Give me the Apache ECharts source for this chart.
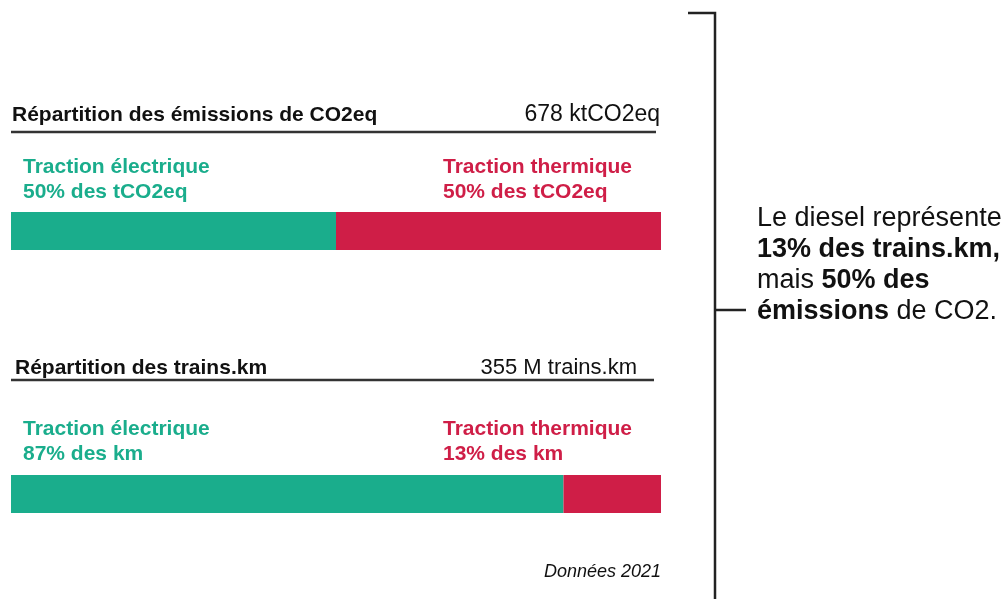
<!DOCTYPE html>
<html>
<head>
<meta charset="utf-8">
<script src="https://cdn.jsdelivr.net/npm/echarts@6/dist/echarts.min.js"></script>
<style>
  html, body { margin: 0; padding: 0; background: #fff; }
  #chart { width: 1002px; height: 599px; }
</style>
</head>
<body>
<div id="chart"></div>
<script>
// données
const sectionTitles = ['Répartition des émissions de CO2eq', 'Répartition des trains.km']
const sectionTotals = ['678 ktCO2eq', '355 M trains.km']
const electricShare = [50, 85] // longueur des barres telle que dessinée
const thermalShare = [50, 15]
const electricLabels = ['50% des tCO2eq', '87% des km']
const thermalLabels = ['50% des tCO2eq', '13% des km']
const sourceNote = 'Données 2021'

const GREEN = '#1aad8c'
const RED = '#cf1e47'
const FONT = '"Liberation Sans", Arial, sans-serif'

// positions de chaque bloc
const blocks = [
  { titleY: 115, titleX: 12, totalX: 660, totalSize: 23, lineY: 132, lineX2: 656, labelY: 167, barTop: 212 },
  { titleY: 368, titleX: 15, totalX: 637, totalSize: 22, lineY: 380, lineX2: 654, labelY: 429, barTop: 475 },
]

const chart = echarts.init(document.getElementById('chart'))

const grids = blocks.map((b) => ({ left: 11, width: 650, top: b.barTop, height: 38 }))
const xAxes = blocks.map((b, i) => ({ type: 'value', gridIndex: i, min: 0, max: 100, show: false }))
const yAxes = blocks.map((b, i) => ({ type: 'category', gridIndex: i, data: [sectionTitles[i]], show: false }))

const series = []
blocks.forEach((b, i) => {
  series.push({
    type: 'bar', stack: 's' + i, xAxisIndex: i, yAxisIndex: i,
    barWidth: '100%', data: [electricShare[i]], itemStyle: { color: GREEN }, silent: true,
  })
  series.push({
    type: 'bar', stack: 's' + i, xAxisIndex: i, yAxisIndex: i,
    barWidth: '100%', data: [thermalShare[i]], itemStyle: { color: RED }, silent: true,
  })
})

const graphic = []
blocks.forEach((b, i) => {
  graphic.push({
    type: 'text', position: [b.titleX, b.titleY],
    style: { text: sectionTitles[i], font: 'bold 21px ' + FONT, fill: '#111', verticalAlign: 'middle' },
  })
  graphic.push({
    type: 'text', position: [b.totalX, b.titleY],
    style: {
      text: sectionTotals[i], font: b.totalSize + 'px ' + FONT, fill: '#111',
      align: 'right', verticalAlign: 'middle',
    },
  })
  graphic.push({
    type: 'line', shape: { x1: 11, y1: b.lineY, x2: b.lineX2, y2: b.lineY },
    style: { stroke: '#333', lineWidth: 2.5 },
  })
  graphic.push({
    type: 'text', position: [23, b.labelY - 12],
    style: {
      text: 'Traction électrique\n' + electricLabels[i], font: 'bold 21px ' + FONT,
      fill: GREEN, lineHeight: 25, verticalAlign: 'top',
    },
  })
  graphic.push({
    type: 'text', position: [443, b.labelY - 12],
    style: {
      text: 'Traction thermique\n' + thermalLabels[i], font: 'bold 21px ' + FONT,
      fill: RED, lineHeight: 25, verticalAlign: 'top',
    },
  })
})

// accolade et commentaire
graphic.push({
  type: 'polyline', shape: { points: [[688, 13], [715, 13], [715, 600]] },
  style: { stroke: '#222', lineWidth: 2.5, fill: null },
})
graphic.push({
  type: 'line', shape: { x1: 715, y1: 310, x2: 746, y2: 310 },
  style: { stroke: '#222', lineWidth: 2.5 },
})
graphic.push({
  type: 'text', position: [757, 203],
  style: {
    text: 'Le diesel représente\n{b|13% des trains.km,}\nmais {b|50% des}\n{b|émissions} de CO2.',
    font: '27px ' + FONT, fill: '#111', lineHeight: 31,
    rich: { b: { font: 'bold 27px ' + FONT, fill: '#111', lineHeight: 31 } },
  },
})
graphic.push({
  type: 'text', position: [661, 572],
  style: { text: sourceNote, font: 'italic 18px ' + FONT, fill: '#111', align: 'right', verticalAlign: 'middle' },
})

chart.setOption({
  animation: false,
  grid: grids,
  xAxis: xAxes,
  yAxis: yAxes,
  series,
  graphic,
})
</script>
</body>
</html>
